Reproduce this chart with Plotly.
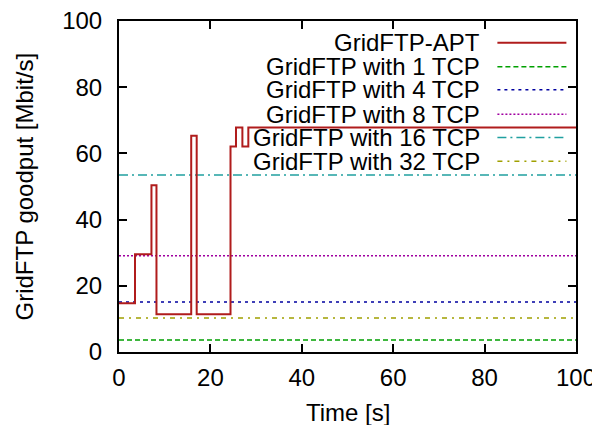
import plotly.graph_objects as go

# GridFTP-APT step series
apt_time = [0, 3.5, 7.1, 8.2, 15.8, 17.0, 24.4, 25.6, 27.0, 28.3, 100]
apt_goodput = [14.7, 29.5, 50.4, 11.4, 65.3, 11.4, 62.1, 67.8, 62.1, 67.8, 67.8]

# constant series (fixed number of TCP streams)
tcp_names = ["GridFTP with 1 TCP", "GridFTP with 4 TCP", "GridFTP with 8 TCP",
             "GridFTP with 16 TCP", "GridFTP with 32 TCP"]
tcp_goodput = [3.6, 15.1, 29.1, 53.5, 10.3]
tcp_time = [0, 100]

x_title = "Time [s]"
y_title = "GridFTP goodput [Mbit/s]"

apt_name = "GridFTP-APT"
apt_color = "#b01c1c"
tcp_colors = ["#00a000", "#0000a0", "#a000a0", "#20a0a0", "#a0a000"]
tcp_dash = ["5px,3px", "3px,4px", "2px,2px", "9px,4px,2px,4px", "5px,5px,2px,5px"]

FONT = "Liberation Sans, Arial, sans-serif"
FS = 24

fig = go.Figure()
for name, val, col, dsh in zip(tcp_names, tcp_goodput, tcp_colors, tcp_dash):
    fig.add_trace(go.Scatter(x=tcp_time, y=[val, val], mode="lines", name=name,
                             line=dict(color=col, width=1.5, dash=dsh),
                             showlegend=False, hoverinfo="skip"))
fig.add_trace(go.Scatter(x=apt_time, y=apt_goodput, mode="lines", name=apt_name,
                         line=dict(color=apt_color, width=2, shape="hv"),
                         showlegend=False))

# manual legend (text to the left of the sample line, gnuplot style)
legend_names = [apt_name] + tcp_names
legend_colors = [apt_color] + tcp_colors
legend_dash = ["solid"] + tcp_dash
legend_y = [93.4, 86.2, 79.2, 71.8, 64.8, 57.6]
for nm, col, dsh, ly in zip(legend_names, legend_colors, legend_dash, legend_y):
    fig.add_annotation(x=79.4, y=ly, xref="x", yref="y", text=nm, showarrow=False,
                       xanchor="right", yanchor="middle",
                       font=dict(family=FONT, size=FS, color="black"))
    fig.add_shape(type="line", x0=82.8, x1=97.9, y0=ly, y1=ly, xref="x", yref="y",
                  line=dict(color=col, width=2 if dsh == "solid" else 1.5, dash=dsh))

# axis titles placed as annotations for precise positioning
fig.add_annotation(x=0.5, y=-0.184, xref="paper", yref="paper", text=x_title,
                   showarrow=False, xanchor="center", yanchor="middle",
                   font=dict(family=FONT, size=FS, color="black"))
fig.add_annotation(x=-0.2057, y=0.5, xref="paper", yref="paper", text=y_title,
                   showarrow=False, xanchor="center", yanchor="middle", textangle=-90,
                   font=dict(family=FONT, size=FS, color="black"))

axis_common = dict(showline=True, linecolor="black", linewidth=2, mirror="ticks",
                   ticks="inside", ticklen=8, tickwidth=2, tickcolor="black",
                   showgrid=False, zeroline=False, automargin=False,
                   ticklabeloverflow="allow",
                   tickfont=dict(family=FONT, size=FS, color="black"))

fig.update_xaxes(range=[0, 100], dtick=20, tick0=0, ticklabelstandoff=3, **axis_common)
fig.update_yaxes(range=[0, 100], dtick=20, tick0=0, ticklabelstandoff=10, **axis_common)

# the page body adds an 8px offset, so margins are compensated for it
fig.update_layout(width=600, height=425,
                  margin=dict(l=111, r=32, t=13, b=81),
                  paper_bgcolor="white", plot_bgcolor="white",
                  font=dict(family=FONT, color="black"))

fig.write_html("out.html")
